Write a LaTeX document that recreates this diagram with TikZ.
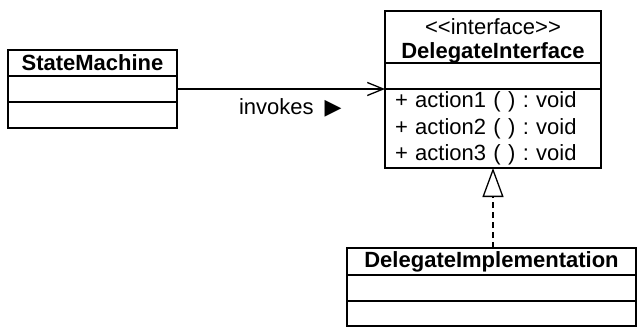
\documentclass[tikz,border=0pt]{standalone}
\usepackage{fontspec}
\setmainfont{Liberation Sans}
\newfontfamily\symfont{DejaVu Sans}
\usetikzlibrary{arrows.meta}
\frenchspacing
\begin{document}
\begin{tikzpicture}[x=1pt,y=-1pt,
  compartment/.style={draw, line width=1.3pt, inner sep=0pt, outer sep=0pt,
    anchor=north west, font=\fontsize{22}{26.5}\selectfont},
  title/.style={compartment, font=\fontsize{22}{25}\selectfont\bfseries},
  txt/.style={inner sep=0pt, font=\fontsize{22}{25}\selectfont},
  conn/.style={line width=1.3pt}]
\useasboundingbox (0,0) rectangle (637,329);

% StateMachine class
\node[title, minimum width=169pt, minimum height=26pt] (smh) at (8,50) {StateMachine};
\node[compartment, minimum width=169pt, minimum height=26pt] (sma) at (smh.south west) {};
\node[compartment, minimum width=169pt, minimum height=26pt] (smo) at (sma.south west) {};

% DelegateInterface
\node[title, minimum width=216pt, minimum height=52pt] (dih) at (385,11) {};
\node[txt] (dis) at ([yshift=-16pt]dih.north) {<\kern0pt<interface>\kern0pt>};
\node[txt, font=\fontsize{22}{25}\selectfont\bfseries] (din) at ([yshift=-42pt]dih.north) {DelegateInterface};
\node[compartment, minimum width=216pt, minimum height=26pt] (dia) at (dih.south west) {};
\node[compartment, text width=196pt, inner xsep=10pt, minimum height=79pt, align=left] (dim) at (dia.south west)
  {+ action1 ( ) : void\\+ action2 ( ) : void\\+ action3 ( ) : void};

% DelegateImplementation class
\node[title, minimum width=289pt, minimum height=27pt] (dph) at (347,248) {DelegateImplementation};
\node[compartment, minimum width=289pt, minimum height=26pt] (dpa) at (dph.south west) {};
\node[compartment, minimum width=289pt, minimum height=25pt] (dpo) at (dpa.south west) {};

% association
\draw[conn, -{Straight Barb[length=16pt,width=13pt,line width=1.3pt]}] (sma.east) --
  node[pos=0.545, yshift=-19pt, font=\fontsize{22}{25}\selectfont] (inv)
  {invokes\hspace{0.5em}{\symfont ▶}} (dim.north west);

% realization
\draw[conn, dash pattern=on 6pt off 4pt,
  -{Triangle[open,length=29pt,width=21pt,line width=1.3pt]}]
  (dim.south |- dph.north) -- (dim.south);
\end{tikzpicture}
\end{document}
